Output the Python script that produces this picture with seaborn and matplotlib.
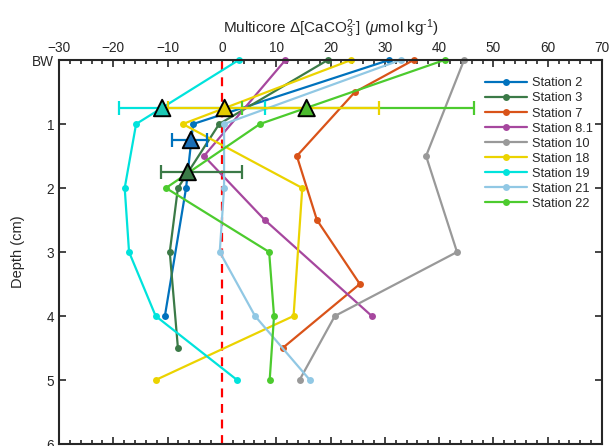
import numpy as np
import pandas as pd
import matplotlib
matplotlib.use("Agg")
import matplotlib.pyplot as plt
from matplotlib.lines import Line2D
from matplotlib.ticker import MultipleLocator
import seaborn as sns

sns.set_style("ticks")
plt.rcParams["font.family"] = ["Liberation Sans", "DejaVu Sans"]
plt.rcParams["mathtext.fontset"] = "custom"
plt.rcParams["mathtext.rm"] = "Liberation Sans"
plt.rcParams["mathtext.it"] = "Liberation Sans:italic"

# station profiles: depth (cm, 0 = bottom water) and delta carbonate
stations = ["Station 2", "Station 3", "Station 7", "Station 8.1", "Station 10",
            "Station 18", "Station 19", "Station 21", "Station 22"]
depths = {
    "Station 2": [0, 1, 2, 4],
    "Station 3": [0, 1, 2, 3, 4.5],
    "Station 7": [0, 0.5, 1.5, 2.5, 3.5, 4.5],
    "Station 8.1": [0, 1.5, 2.5, 4],
    "Station 10": [0, 1.5, 3, 4, 5],
    "Station 18": [0, 1, 2, 4, 5],
    "Station 19": [0, 1, 2, 3, 4, 5],
    "Station 21": [0, 1, 2, 3, 4, 5],
    "Station 22": [0, 1, 2, 3, 4, 5],
}
values = {
    "Station 2": [30.8, -5.3, -6.6, -10.5],
    "Station 3": [19.5, -0.5, -8.1, -9.6, -8.1],
    "Station 7": [35.3, 24.5, 13.8, 17.5, 25.4, 11.2],
    "Station 8.1": [11.7, -3.3, 7.9, 27.6],
    "Station 10": [44.6, 37.6, 43.3, 20.8, 14.3],
    "Station 18": [23.8, -7.2, 14.8, 13.2, -12.2],
    "Station 19": [3.1, -15.8, -17.9, -17.1, -12.2, 2.8],
    "Station 21": [32.9, 0.4, 0.4, -0.4, 6.1, 16.2],
    "Station 22": [41.0, 7.0, -10.3, 8.7, 9.6, 8.8],
}
colors = {
    "Station 2": "#0072BD", "Station 3": "#3B7A47", "Station 7": "#D95319",
    "Station 8.1": "#A6479E", "Station 10": "#999999", "Station 18": "#EBD300",
    "Station 19": "#00E3DC", "Station 21": "#91C8E4", "Station 22": "#4CCB2E",
}

# triangle means with ranges
tri_x = [-11.0, 15.6, 0.5, -5.7, -6.3]
tri_depth = [0.75, 0.75, 0.75, 1.25, 1.75]
tri_lo = [-18.9, 3.7, -10.0, -9.1, -11.2]
tri_hi = [8.0, 46.4, 29.0, -2.8, 3.7]
tri_edge = ["#00E3DC", "#4CCB2E", "#EBD300", "#0072BD", "#3B7A47"]
tri_fill = ["#1CC8B4", "#4CBB2E", "#E3CC00", "#1A6FB8", "#3B7A47"]

rows = []
for s in stations:
    for d, v in zip(depths[s], values[s]):
        rows.append({"station": s, "depth": d, "value": v})
df = pd.DataFrame(rows)

fig = plt.figure(figsize=(6.09, 4.46), dpi=100)
ax = fig.add_axes([59 / 609, 2 / 446, 543 / 609, 384 / 446])

ax.axvline(0, color="red", ls=(0, (4, 3)), lw=1.6, zorder=1)

sns.lineplot(data=df, x="value", y="depth", hue="station", hue_order=stations,
             palette=colors, orient="y", estimator=None, sort=False,
             marker="o", markersize=5, markeredgewidth=0, lw=1.6,
             legend=False, ax=ax, zorder=2, clip_on=False)

for x, d, lo, hi, ec in zip(tri_x, tri_depth, tri_lo, tri_hi, tri_edge):
    ax.errorbar([x], [d], xerr=[[x - lo], [hi - x]], fmt="none", ecolor=ec,
                elinewidth=1.6, capsize=5, capthick=1.6, zorder=3)
tri = pd.DataFrame({"x": tri_x, "d": tri_depth, "c": tri_fill})
sns.scatterplot(data=tri, x="x", y="d", hue="c", palette=dict(zip(tri_fill, tri_fill)),
                marker="^", s=140, edgecolor="black", linewidth=1.4,
                legend=False, ax=ax, zorder=4)

ax.set_xlim(-30, 70)
ax.set_ylim(6, 0)
ax.xaxis.set_major_locator(MultipleLocator(10))
ax.xaxis.set_minor_locator(MultipleLocator(2))
ax.set_yticks(range(7))
ax.set_yticklabels(["BW", "1", "2", "3", "4", "5", "6"])
ax.tick_params(which="both", direction="in", top=True, bottom=True, left=True,
               right=True, labeltop=True, labelbottom=False, labelsize=9.8,
               colors="#262626", width=1.2)
ax.tick_params(which="major", length=5)
ax.tick_params(which="minor", length=3)
ax.tick_params(axis="y", which="minor", left=False, right=False)
ax.xaxis.set_label_position("top")
ax.set_xlabel(r"Multicore $\Delta$[CaCO$_3^{2\text{-}}$] ($\mathit{\mu}$mol kg$^{\text{-}1}$)",
              fontsize=11, color="#262626", labelpad=6)
ax.set_ylabel("Depth (cm)", fontsize=10.5, color="#262626", labelpad=5)
for sp in ax.spines.values():
    sp.set_linewidth(1.5)
    sp.set_color("#262626")

handles = [Line2D([], [], color=colors[s], lw=1.6, marker="o", markersize=5,
                  markeredgewidth=0) for s in stations]
ax.legend(handles, stations, loc="upper left", bbox_to_anchor=(0.775, 0.968),
          frameon=False, fontsize=9.2, handlelength=3.3, handletextpad=0.35,
          labelspacing=0.24, borderaxespad=0)

fig.savefig("out.png", dpi=100)
